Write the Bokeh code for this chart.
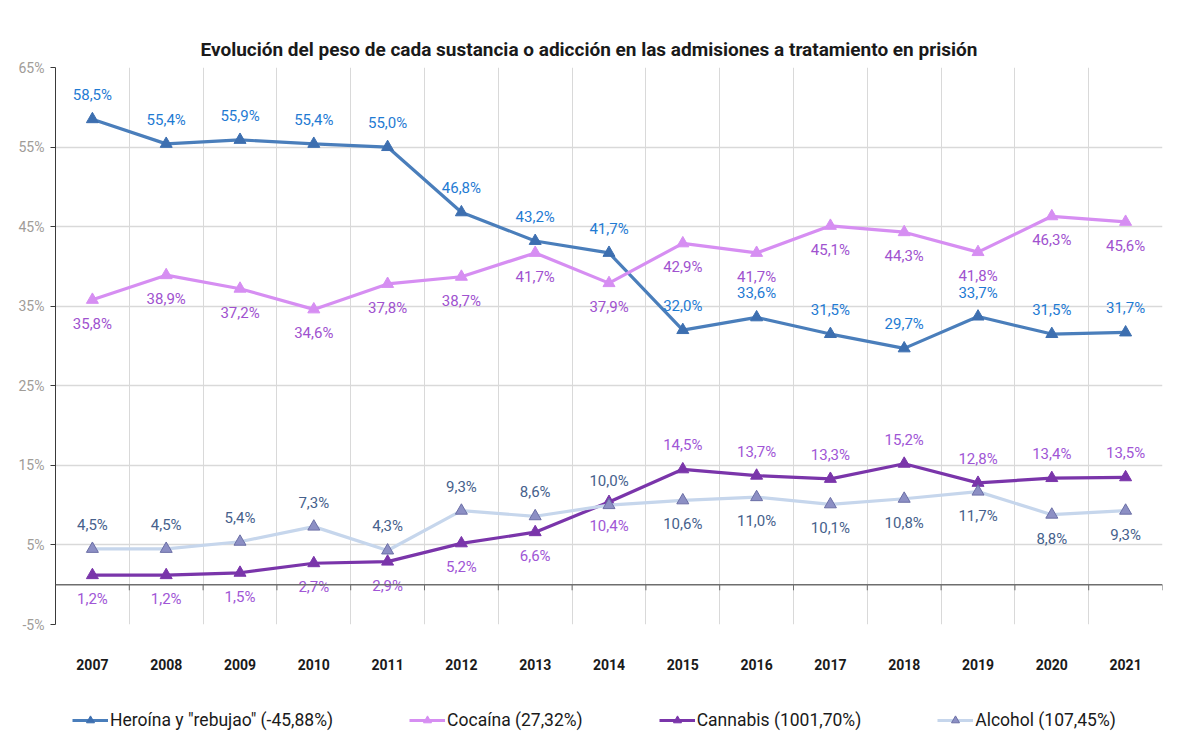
import numpy as np
from bokeh.plotting import figure
from bokeh.layouts import column
from bokeh.models import FixedTicker, Legend, LegendItem, ColumnDataSource, Span
from bokeh.core.properties import value
from bokeh.embed import file_html
from bokeh.resources import INLINE

# ---- data ----
years = [2007, 2008, 2009, 2010, 2011, 2012, 2013, 2014, 2015, 2016, 2017, 2018, 2019, 2020, 2021]
heroina = [58.5, 55.4, 55.9, 55.4, 55.0, 46.8, 43.2, 41.7, 32.0, 33.6, 31.5, 29.7, 33.7, 31.5, 31.7]
cocaina = [35.8, 38.9, 37.2, 34.6, 37.8, 38.7, 41.7, 37.9, 42.9, 41.7, 45.1, 44.3, 41.8, 46.3, 45.6]
cannabis = [1.2, 1.2, 1.5, 2.7, 2.9, 5.2, 6.6, 10.4, 14.5, 13.7, 13.3, 15.2, 12.8, 13.4, 13.5]
alcohol = [4.5, 4.5, 5.4, 7.3, 4.3, 9.3, 8.6, 10.0, 10.6, 11.0, 10.1, 10.8, 11.7, 8.8, 9.3]
series_names = ['Heroína y "rebujao" (-45,88%)', 'Cocaína (27,32%)',
                'Cannabis (1001,70%)', 'Alcohol (107,45%)']
y_ticks = [-5, 5, 15, 25, 35, 45, 55, 65]
title_text = "Evolución del peso de cada sustancia o adicción en las admisiones a tratamiento en prisión"

FONT = "Roboto"
xs = list(range(len(years)))

p = figure(frame_width=1107, frame_height=557, output_backend="svg", toolbar_location=None,
           x_range=(-0.5, len(years) - 0.5), y_range=(y_ticks[0], y_ticks[-1]),
           min_border_left=55, min_border_right=7, min_border_top=67, min_border_bottom=47)
p.outline_line_color = None
p.background_fill_color = "white"
p.border_fill_color = "white"

p.title.text = title_text
p.title.align = "left"
p.title.offset = 145
p.title.text_font = FONT
p.title.text_font_size = "19px"
p.title.text_font_style = "bold"
p.title.text_color = "#1a1a1a"
p.title.standoff = 14

# axes
p.yaxis.ticker = FixedTicker(ticks=y_ticks)
p.yaxis.major_label_overrides = {t: f"{t}%" for t in y_ticks}
p.yaxis.major_label_text_font = FONT
p.yaxis.major_label_text_font_size = "14px"
p.yaxis.major_label_text_color = "#a09c98"
p.yaxis.axis_line_color = "#3a3a3a"
p.yaxis.major_tick_line_color = "#3a3a3a"
p.yaxis.major_tick_out = 5
p.yaxis.major_tick_in = 0
p.yaxis.minor_tick_line_color = None
p.yaxis.major_label_standoff = 6

p.xaxis.ticker = FixedTicker(ticks=xs)
p.xaxis.major_label_overrides = {i: str(y) for i, y in zip(xs, years)}
p.xaxis.major_label_text_font = FONT
p.xaxis.major_label_text_font_size = "14px"
p.xaxis.major_label_text_font_style = "bold"
p.xaxis.major_label_text_color = "#1a1a1a"
p.xaxis.axis_line_color = None
p.xaxis.major_tick_line_color = None
p.xaxis.minor_tick_line_color = None
p.xaxis.major_label_standoff = 28

p.xgrid.ticker = FixedTicker(ticks=[i - 0.5 for i in range(len(years) + 1)])
p.ygrid.ticker = FixedTicker(ticks=y_ticks)
p.xgrid.grid_line_color = "#d9d9d9"
p.ygrid.grid_line_color = "#d9d9d9"
p.xgrid.grid_line_width = 1
p.ygrid.grid_line_width = 1.5

# zero axis line with tick marks
p.add_layout(Span(location=0, dimension="width", line_color="#6e6e6e", line_width=1.5))
bounds = [i - 0.5 for i in range(len(years) + 1)]
p.segment(x0=bounds, y0=[0] * len(bounds), x1=bounds, y1=[-0.7] * len(bounds),
          line_color="#6e6e6e", line_width=1)

def fmt(v):
    return f"{v:.1f}".replace(".", ",") + "%"

styles = [
    # line color, marker fill, marker line, label color
    (heroina, "#4a7ebb", "#3d6fb0", "#3d6fb0", "#1f7bd3"),
    (cocaina, "#d68ef2", "#d68ef2", "#d68ef2", "#a052cf"),
    (cannabis, "#7a35aa", "#7a35aa", "#7a35aa", "#a056d6"),
    (alcohol, "#c6d6ec", "#8c8fc4", "#6b6fa6", "#46618c"),
]

for (vals, lc, mf, ml, tc) in styles:
    src = ColumnDataSource(dict(x=xs, y=vals))
    p.line("x", "y", source=src, line_color=lc, line_width=3.2)
    p.scatter("x", "y", source=src, marker="triangle", size=12,
              fill_color=mf, line_color=ml, line_width=1)

# data labels
def add_labels(vals, color, above_flags):
    ax = [x for x, a in zip(xs, above_flags) if a]
    ay = [v for v, a in zip(vals, above_flags) if a]
    bx = [x for x, a in zip(xs, above_flags) if not a]
    by = [v for v, a in zip(vals, above_flags) if not a]
    common = dict(text_align="center", text_baseline="middle",
                  text_font=value(FONT), text_font_size="15px", text_color=color)
    if ax:
        p.text(x=ax, y=ay, text=[fmt(v) for v in ay], y_offset=-24, **common)
    if bx:
        p.text(x=bx, y=by, text=[fmt(v) for v in by], y_offset=24, **common)

add_labels(heroina, styles[0][4], [True] * len(years))
add_labels(cocaina, styles[1][4], [False] * len(years))
add_labels(cannabis, styles[2][4], [y >= 2015 for y in years])
add_labels(alcohol, styles[3][4], [y < 2015 for y in years])

# ---- legend strip below the chart ----
lg = figure(width=1169, height=63, output_backend="svg", toolbar_location=None,
            x_range=(0, 1), y_range=(0, 1), x_axis_type=None, y_axis_type=None,
            min_border=0)
lg.outline_line_color = None
lg.grid.visible = False
lg.border_fill_color = "white"
lg.background_fill_color = "white"

nan = np.array([np.nan])
items = []
for (vals, lc, mf, ml, tc), name in zip(styles, series_names):
    r1 = lg.line(x=nan, y=nan, line_color=lc, line_width=3.2)
    r2 = lg.scatter(x=nan, y=nan, marker="triangle", size=9,
                    fill_color=mf, line_color=ml, line_width=1)
    items.append(LegendItem(label=name, renderers=[r1, r2]))

legend = Legend(items=items, orientation="horizontal", location=(15, 3),
                spacing=76, glyph_width=36, label_text_font=FONT,
                label_text_font_size="17.5px", label_text_color="#1a1a1a",
                border_line_alpha=0, background_fill_alpha=0, padding=2,
                margin=0, label_standoff=2)
lg.add_layout(legend, "center")

open("out.html", "w").write(file_html(column(p, lg, spacing=0), INLINE))
